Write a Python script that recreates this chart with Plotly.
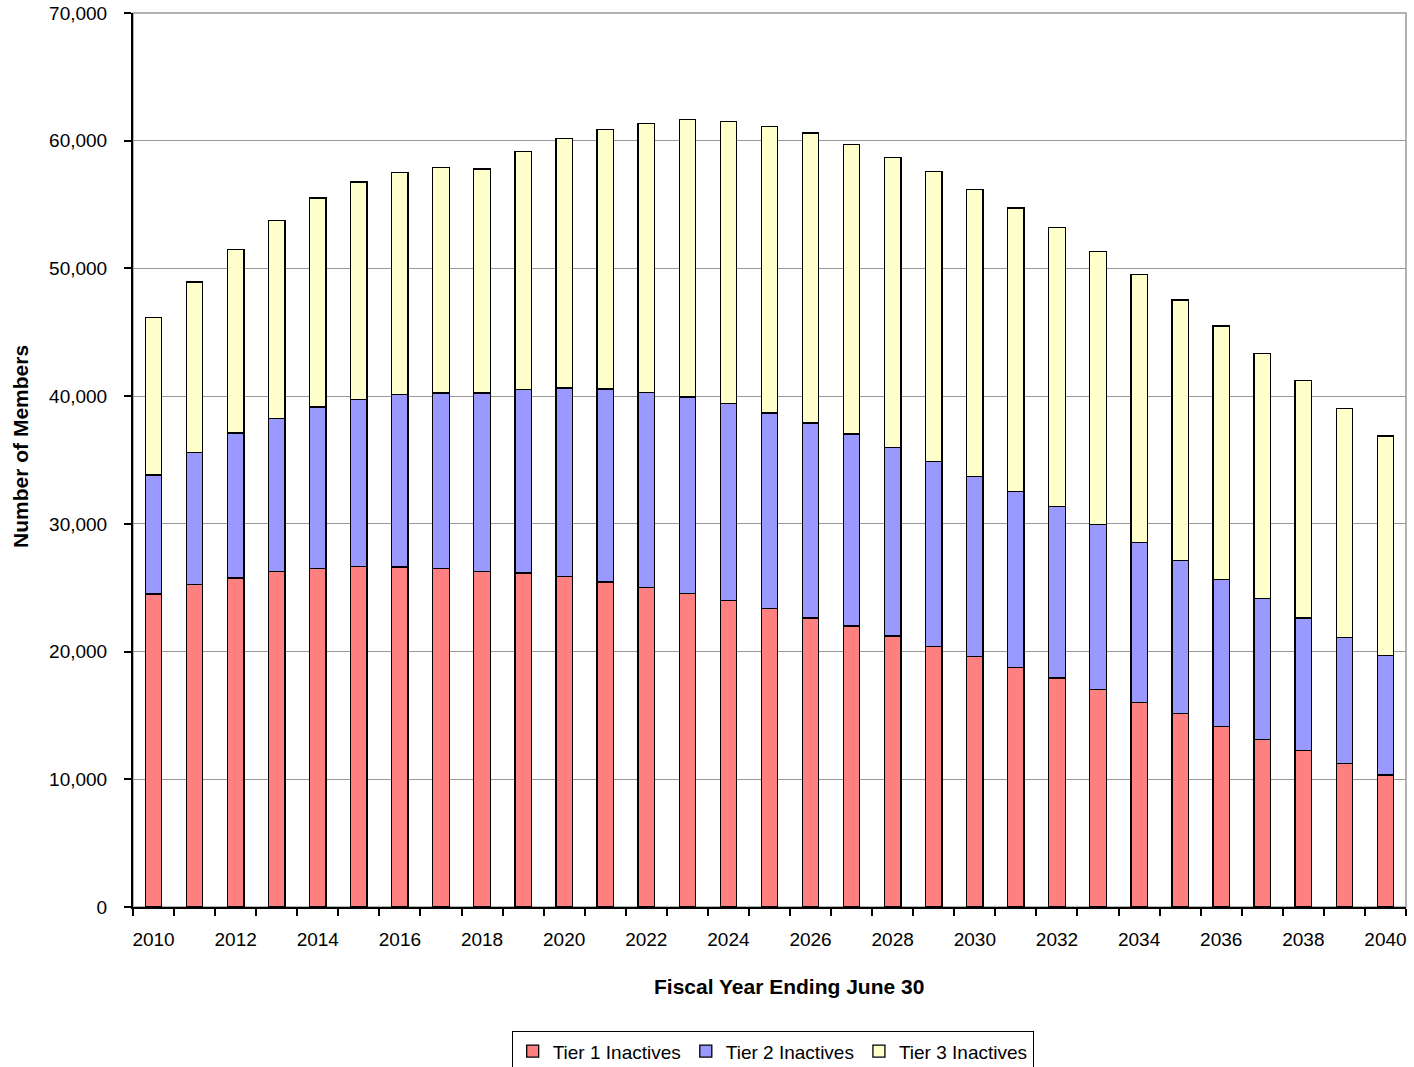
import plotly.graph_objects as go

years = list(range(2010, 2041))
tier1 = [24500, 25270, 25760, 26260, 26520, 26650, 26620, 26520, 26260, 26160,
         25870, 25450, 25040, 24530, 24020, 23390, 22640, 22010, 21230, 20390,
         19640, 18760, 17920, 17020, 16030, 15160, 14130, 13140, 12240, 11240, 10340]
tier2 = [9330, 10330, 11360, 11980, 12630, 13100, 13500, 13730, 13990, 14350,
         14770, 15120, 15260, 15410, 15410, 15290, 15260, 15020, 14750, 14480,
         14090, 13780, 13420, 12920, 12510, 11980, 11490, 10990, 10400, 9850, 9380]
tier3 = [12350, 13340, 14350, 15530, 16370, 17020, 17410, 17650, 17540, 18640,
         19530, 20330, 21050, 21710, 22070, 22430, 22700, 22700, 22730, 22700,
         22460, 22200, 21860, 21360, 20990, 20380, 19880, 19220, 18570, 17950, 17170]
series_names = ["Tier 1 Inactives", "Tier 2 Inactives", "Tier 3 Inactives"]
series_colors = ["#FF8080", "#9999FF", "#FFFFCC"]
x_tick_labels = [str(y) for y in years[::2]]
y_tick_values = list(range(0, 70001, 10000))
x_title = "Fiscal Year Ending June 30"
y_title = "Number of Members"

font_family = "Liberation Sans, Arial, sans-serif"

fig = go.Figure()
for name, vals, col in zip(series_names, [tier1, tier2, tier3], series_colors):
    fig.add_trace(go.Bar(
        x=years, y=vals, name=name, width=0.4,
        marker=dict(color=col, line=dict(color="black", width=1.3)),
    ))

fig.update_layout(
    barmode="stack",
    width=1414, height=1067,
    margin=dict(l=133, r=8, t=13, b=160, autoexpand=False),
    paper_bgcolor="white", plot_bgcolor="white",
    font=dict(family=font_family, size=19, color="black"),
    showlegend=True,
    legend=dict(
        orientation="h", x=0.5025, xanchor="center", y=-0.139, yanchor="top",
        bordercolor="black", borderwidth=1, bgcolor="white",
        font=dict(size=19), itemwidth=30, traceorder="normal",
    ),
    xaxis=dict(
        range=[2009.5, 2040.5],
        tickvals=years[::2], ticktext=x_tick_labels,
        ticks="", showgrid=False, zeroline=False, automargin=False,
        showline=True, linecolor="black", linewidth=2,
        minor=dict(tickvals=[y - 0.5 for y in years] + [2040.5], ticks="outside",
                   ticklen=7, tickcolor="black", tickwidth=1.5, showgrid=False),
        tickfont=dict(size=19), ticklabelstandoff=14,
    ),
    yaxis=dict(
        range=[0, 70000],
        tickvals=y_tick_values, tickformat=",d",
        ticks="outside", ticklen=7, tickcolor="black", tickwidth=1.5,
        showgrid=True, gridcolor="#999999", gridwidth=1.3,
        zeroline=False, showline=True, linecolor="black", linewidth=2,
        tickfont=dict(size=19), ticklabelstandoff=13, automargin=False,
    ),
    shapes=[dict(type="rect", xref="paper", yref="paper", x0=0, x1=1, y0=0, y1=1,
                 line=dict(color="#999999", width=1.5), layer="below")],
    annotations=[
        dict(text="<b>" + x_title + "</b>", xref="paper", yref="paper",
             x=0.5153, y=-0.0884, xanchor="center", yanchor="middle",
             showarrow=False, font=dict(size=21)),
        dict(text="<b>" + y_title + "</b>", xref="paper", yref="paper",
             x=-0.088, y=0.5157, xanchor="center", yanchor="middle", textangle=-90,
             showarrow=False, font=dict(size=21)),
    ],
)

fig.write_html("out.html", config={"displayModeBar": False},
               post_script="document.body.style.margin='0';document.body.style.overflow='hidden';")
